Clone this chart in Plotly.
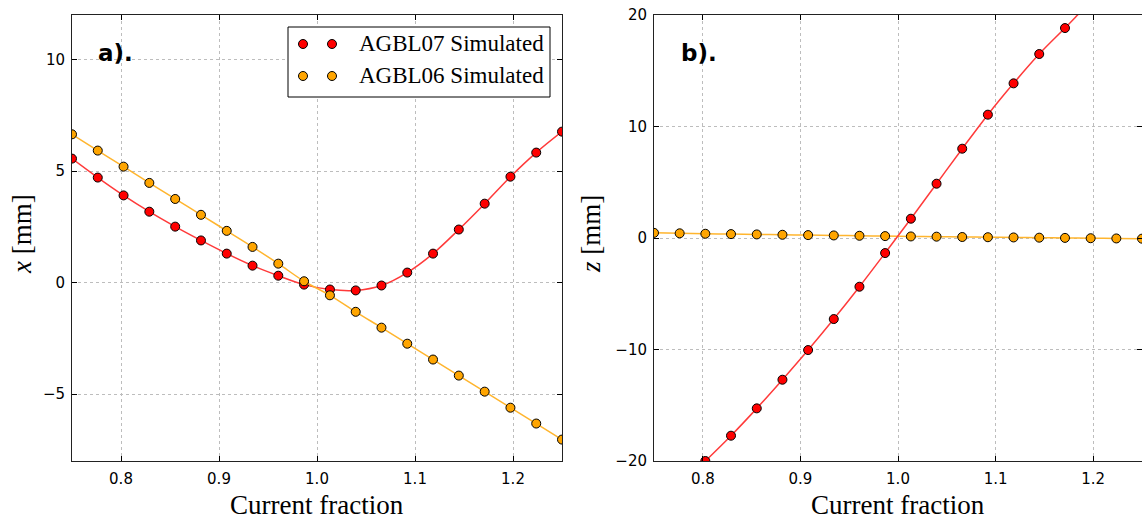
import plotly.graph_objects as go

# Current fraction sweep (20 settings)
current_fraction = [0.7500, 0.7763, 0.8026, 0.8289, 0.8553, 0.8816, 0.9079, 0.9342,
                    0.9605, 0.9868, 1.0132, 1.0395, 1.0658, 1.0921, 1.1184, 1.1447,
                    1.1711, 1.1974, 1.2237, 1.2500]

# Horizontal orbit offset x [mm]
x_agbl07 = [5.56, 4.71, 3.91, 3.18, 2.51, 1.89, 1.30, 0.76, 0.31, -0.09,
            -0.31, -0.35, -0.13, 0.45, 1.30, 2.38, 3.54, 4.75, 5.83, 6.77]
x_agbl06 = [6.65, 5.92, 5.20, 4.47, 3.75, 3.04, 2.32, 1.60, 0.85, 0.06,
            -0.57, -1.31, -2.02, -2.74, -3.45, -4.17, -4.89, -5.61, -6.32, -7.04]

# Vertical orbit offset z [mm]
z_agbl07 = [-24.3, -22.2, -20.0, -17.73, -15.28, -12.71, -10.05, -7.27, -4.37, -1.35,
            1.73, 4.87, 8.01, 11.06, 13.87, 16.50, 18.83, 21.2, 23.4, 25.4]
z_agbl06 = [0.46, 0.42, 0.38, 0.35, 0.32, 0.29, 0.26, 0.23, 0.20, 0.17,
            0.14, 0.12, 0.09, 0.07, 0.05, 0.03, 0.01, -0.02, -0.04, -0.06]

x_ticks = [0.8, 0.9, 1.0, 1.1, 1.2]
xpos_ticks = [-5, 0, 5, 10]
zpos_ticks = [-20, -10, 0, 10, 20]

series_names = ["AGBL07 Simulated", "AGBL06 Simulated"]
marker_fill = ["#ff0000", "#ffa500"]
line_colors = ["#ff3a3a", "#ffb52e"]

W, H = 1142, 521
ML, MR, MT, MB = 72, 0, 15, 60
plot_w = W - ML - MR
plot_h = H - MT - MB
dom_a = [0.0, (562 - ML) / plot_w]
dom_b = [(654 - ML) / plot_w, 1.0]

fig = go.Figure()


def add_series(xs, ys, k, xa, ya):
    fig.add_trace(go.Scatter(
        x=xs, y=ys, mode="lines+markers", name=series_names[k], showlegend=False,
        line=dict(color=line_colors[k], width=1.5, shape="spline", smoothing=1.0),
        marker=dict(size=9, color=marker_fill[k], line=dict(color="black", width=1)),
        xaxis=xa, yaxis=ya,
    ))


add_series(current_fraction, x_agbl07, 0, "x", "y")
add_series(current_fraction, x_agbl06, 1, "x", "y")
add_series(current_fraction, z_agbl06, 1, "x2", "y2")
add_series(current_fraction, z_agbl07, 0, "x2", "y2")

tick_font = dict(family="DejaVu Sans", size=15, color="black")
common = dict(
    showline=True, linecolor="#222222", linewidth=1, mirror="allticks",
    ticks="inside", ticklen=5, tickwidth=1, tickcolor="black",
    showgrid=True, gridcolor="#bdbdbd", griddash="dot", gridwidth=1,
    zeroline=False, tickfont=tick_font,
)

fig.update_layout(
    width=W, height=H,
    margin=dict(l=ML, r=MR, t=MT, b=MB),
    paper_bgcolor="white", plot_bgcolor="white",
    xaxis=dict(domain=dom_a, range=[0.75, 1.25], tickvals=x_ticks, tickformat=".1f",
               anchor="y", ticklabelstandoff=4, **common),
    yaxis=dict(domain=[0, 1], range=[-8, 12], tickvals=xpos_ticks, anchor="x",
               ticklabelstandoff=3, **common),
    xaxis2=dict(domain=dom_b, range=[0.75, 1.25], tickvals=x_ticks, tickformat=".1f",
                anchor="y2", ticklabelstandoff=4, **common),
    yaxis2=dict(domain=[0, 1], range=[-20, 20], tickvals=zpos_ticks, anchor="x2",
                ticklabelstandoff=3, **common),
)

serif = "Liberation Serif"
ann = []
# axis titles
for dom in (dom_a, dom_b):
    ann.append(dict(text="Current fraction", xref="paper", yref="paper",
                    x=(dom[0] + dom[1]) / 2, y=-44 / plot_h, xanchor="center", yanchor="middle",
                    showarrow=False, font=dict(family=serif, size=27, color="black")))
ann.append(dict(text="<i>x</i> [mm]", xref="paper", yref="paper",
                x=-50 / plot_w, y=(461 - 234) / plot_h, xanchor="center", yanchor="middle",
                textangle=-90, showarrow=False, font=dict(family=serif, size=27, color="black")))
ann.append(dict(text="<i>z</i> [mm]", xref="paper", yref="paper",
                x=(591 - ML) / plot_w, y=(461 - 234) / plot_h, xanchor="center", yanchor="middle",
                textangle=-90, showarrow=False, font=dict(family=serif, size=27, color="black")))
# panel labels
ann.append(dict(text="<b>a).</b>", xref="paper", yref="paper",
                x=(96 - ML) / plot_w, y=(461 - 53) / plot_h, xanchor="left", yanchor="middle",
                showarrow=False, font=dict(family="DejaVu Sans", size=23, color="black")))
ann.append(dict(text="<b>b).</b>", xref="paper", yref="paper",
                x=(679 - ML) / plot_w, y=(461 - 53) / plot_h, xanchor="left", yanchor="middle",
                showarrow=False, font=dict(family="DejaVu Sans", size=23, color="black")))

# legend box drawn in the upper right of panel a
shapes = []
bx0, bx1, by0, by1 = 288, 550, 27, 97
shapes.append(dict(type="rect", xref="paper", yref="paper",
                   x0=(bx0 - ML) / plot_w, x1=(bx1 - ML) / plot_w,
                   y0=(461 - by1) / plot_h, y1=(461 - by0) / plot_h,
                   line=dict(color="black", width=1), fillcolor="white", layer="above"))
rows = [44, 76]
for k, ry in enumerate(rows):
    for mx in (303, 332):
        shapes.append(dict(type="circle", xref="paper", yref="paper",
                           xsizemode="pixel", ysizemode="pixel",
                           xanchor=(mx - ML) / plot_w, yanchor=(461 - ry) / plot_h,
                           x0=-4.5, x1=4.5, y0=-4.5, y1=4.5,
                           fillcolor=marker_fill[k], line=dict(color="black", width=1),
                           layer="above"))
    ann.append(dict(text=series_names[k], xref="paper", yref="paper",
                    x=(357 - ML) / plot_w, y=(461 - ry) / plot_h, xanchor="left", yanchor="middle",
                    showarrow=False, font=dict(family=serif, size=23, color="black")))

fig.update_layout(annotations=ann, shapes=shapes)
fig.write_html("out.html")
